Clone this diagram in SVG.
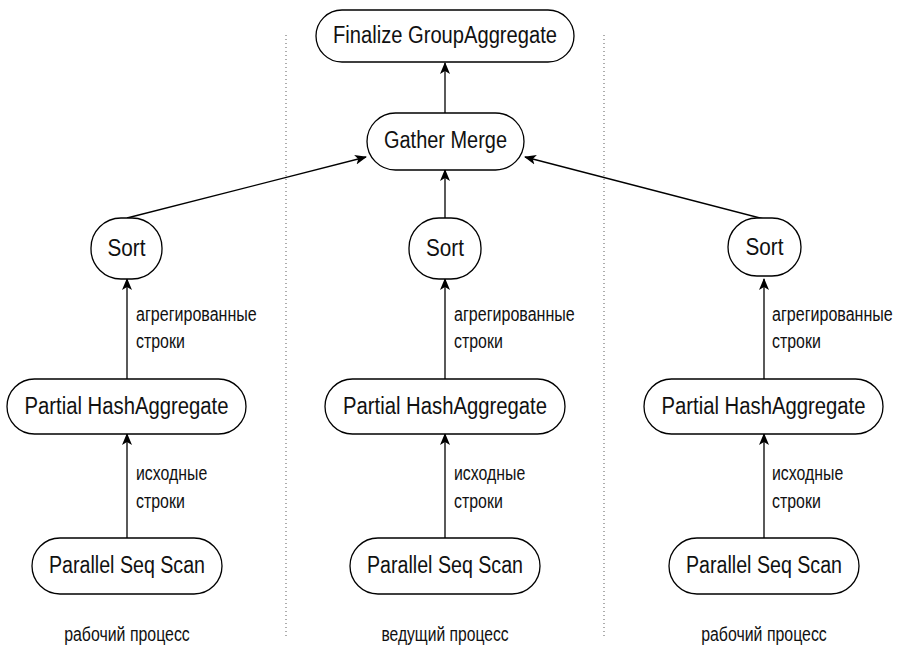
<svg xmlns="http://www.w3.org/2000/svg" width="899" height="649" viewBox="0 0 899 649">
<style>
.n{fill:#fff;stroke:#000;stroke-width:1.3}
.t{font-family:"Liberation Sans",Arial,sans-serif;font-size:23px;text-anchor:middle;fill:#111}
.l{font-family:"Liberation Sans",Arial,sans-serif;font-size:20px;fill:#111}
.m{text-anchor:middle}
.c{stroke:#000;stroke-width:1.3;fill:none;marker-end:url(#a)}
.d{stroke:#777;stroke-width:1.2;stroke-dasharray:1 3}
</style>
<defs>
<marker id="a" viewBox="0 0 12 12" refX="11" refY="6" markerWidth="12" markerHeight="12" markerUnits="userSpaceOnUse" orient="auto">
<path d="M0,1 L12,6 L0,11 L3,6 Z" fill="#000"/>
</marker>
</defs>
<g id="separators">
<line class="d" x1="286" y1="35" x2="286" y2="636"/>
<line class="d" x1="604" y1="35" x2="604" y2="636"/>
</g>
<g id="connectors">
<line class="c" x1="445" y1="113" x2="445" y2="63"/>
<line class="c" x1="127" y1="218" x2="366" y2="157"/>
<line class="c" x1="445" y1="219" x2="445" y2="170"/>
<line class="c" x1="764" y1="219" x2="525" y2="157"/>
<line class="c" x1="127" y1="379" x2="127" y2="279"/>
<line class="c" x1="445" y1="379" x2="445" y2="279"/>
<line class="c" x1="764" y1="379" x2="764" y2="279"/>
<line class="c" x1="127" y1="538" x2="127" y2="434"/>
<line class="c" x1="445" y1="538" x2="445" y2="434"/>
<line class="c" x1="764" y1="538" x2="764" y2="434"/>
</g>
<g id="finalize"><rect class="n" x="316" y="10" width="258" height="52" rx="26"/><text class="t" x="445" y="43" textLength="224" lengthAdjust="spacingAndGlyphs">Finalize GroupAggregate</text></g>
<g id="gather"><rect class="n" x="367" y="113" width="157" height="57" rx="28.5"/><text class="t" x="445.5" y="148" textLength="123" lengthAdjust="spacingAndGlyphs">Gather Merge</text></g>
<g id="sort1"><rect class="n" x="91" y="218" width="71" height="61" rx="30"/><text class="t" x="126.5" y="256" textLength="38" lengthAdjust="spacingAndGlyphs">Sort</text></g>
<g id="sort2"><rect class="n" x="409" y="218" width="72" height="61" rx="30"/><text class="t" x="445" y="256" textLength="38" lengthAdjust="spacingAndGlyphs">Sort</text></g>
<g id="sort3"><rect class="n" x="728" y="218" width="73" height="58" rx="29"/><text class="t" x="764.5" y="255" textLength="38" lengthAdjust="spacingAndGlyphs">Sort</text></g>
<g id="hash1"><rect class="n" x="7" y="379" width="239" height="55" rx="27.5"/><text class="t" x="126.5" y="414" textLength="204" lengthAdjust="spacingAndGlyphs">Partial HashAggregate</text></g>
<g id="hash2"><rect class="n" x="325" y="379" width="240" height="55" rx="27.5"/><text class="t" x="445" y="414" textLength="204" lengthAdjust="spacingAndGlyphs">Partial HashAggregate</text></g>
<g id="hash3"><rect class="n" x="644" y="379" width="239" height="55" rx="27.5"/><text class="t" x="763.5" y="414" textLength="204" lengthAdjust="spacingAndGlyphs">Partial HashAggregate</text></g>
<g id="scan1"><rect class="n" x="32" y="538" width="190" height="56" rx="28"/><text class="t" x="127" y="573" textLength="156" lengthAdjust="spacingAndGlyphs">Parallel Seq Scan</text></g>
<g id="scan2"><rect class="n" x="350" y="538" width="190" height="56" rx="28"/><text class="t" x="445" y="573" textLength="156" lengthAdjust="spacingAndGlyphs">Parallel Seq Scan</text></g>
<g id="scan3"><rect class="n" x="669" y="538" width="190" height="56" rx="28"/><text class="t" x="764" y="573" textLength="156" lengthAdjust="spacingAndGlyphs">Parallel Seq Scan</text></g>
<g id="labels">
<text class="l" transform="translate(136,321) scale(0.8,1)" textLength="151" lengthAdjust="spacingAndGlyphs">агрегированные</text>
<text class="l" transform="translate(136,348) scale(0.8,1)" textLength="61" lengthAdjust="spacingAndGlyphs">строки</text>
<text class="l" transform="translate(454,321) scale(0.8,1)" textLength="151" lengthAdjust="spacingAndGlyphs">агрегированные</text>
<text class="l" transform="translate(454,348) scale(0.8,1)" textLength="61" lengthAdjust="spacingAndGlyphs">строки</text>
<text class="l" transform="translate(772,321) scale(0.8,1)" textLength="151" lengthAdjust="spacingAndGlyphs">агрегированные</text>
<text class="l" transform="translate(772,348) scale(0.8,1)" textLength="61" lengthAdjust="spacingAndGlyphs">строки</text>
<text class="l" transform="translate(136,480) scale(0.8,1)" textLength="89" lengthAdjust="spacingAndGlyphs">исходные</text>
<text class="l" transform="translate(136,508) scale(0.8,1)" textLength="61" lengthAdjust="spacingAndGlyphs">строки</text>
<text class="l" transform="translate(454,480) scale(0.8,1)" textLength="89" lengthAdjust="spacingAndGlyphs">исходные</text>
<text class="l" transform="translate(454,508) scale(0.8,1)" textLength="61" lengthAdjust="spacingAndGlyphs">строки</text>
<text class="l" transform="translate(772,480) scale(0.8,1)" textLength="89" lengthAdjust="spacingAndGlyphs">исходные</text>
<text class="l" transform="translate(772,508) scale(0.8,1)" textLength="61" lengthAdjust="spacingAndGlyphs">строки</text>
<text class="l m" transform="translate(127,641) scale(0.8,1)" textLength="157" lengthAdjust="spacingAndGlyphs">рабочий процесс</text>
<text class="l m" transform="translate(445,641) scale(0.8,1)" textLength="159" lengthAdjust="spacingAndGlyphs">ведущий процесс</text>
<text class="l m" transform="translate(764,641) scale(0.8,1)" textLength="157" lengthAdjust="spacingAndGlyphs">рабочий процесс</text>
</g>
</svg>
